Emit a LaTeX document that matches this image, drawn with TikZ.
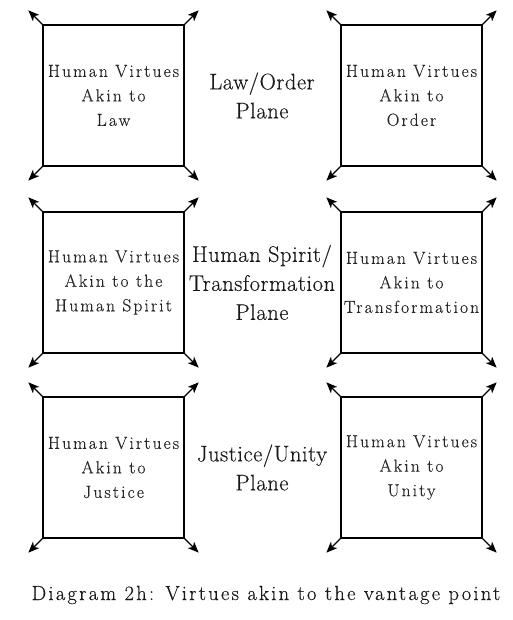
\documentclass[tikz,border=0pt]{standalone}
\usepackage{fontspec}
\setmainfont{Latin Modern Roman}
\newfontfamily\spacedfont{Latin Modern Roman}[LetterSpace=12, FakeBold=0.3]
\newfontfamily\planefont{Latin Modern Roman}[LetterSpace=2.5, FakeBold=0.3]
\newfontfamily\captfont{Latin Modern Roman}[LetterSpace=11, FakeBold=0.3]
\usetikzlibrary{arrows.meta}

\tikzset{
    virtue/.style={draw, line width=1.3pt, minimum width=141pt, minimum height=141pt,
        inner sep=0pt, align=center, font=\spacedfont\fontsize{17.5}{24.5}\selectfont, text=black!85},
    plane/.style={align=center, font=\planefont\fontsize{22.5}{29}\selectfont, text=black!90},
    corner/.style={line width=1.3pt, -{Stealth[length=11pt, width=9pt, inset=3pt]}}
}

\begin{document}
\begin{tikzpicture}[x=1pt, y=1pt]

    \useasboundingbox (0, 0) rectangle (513, 620);

    \foreach \name/\x/\y/\txt in {lawbox/113.5/524.5/{Human Virtues\\Akin to\\Law},
                                  orderbox/411.5/524.5/{Human Virtues\\Akin to\\Order},
                                  spiritbox/113.5/337.5/{Human Virtues\\Akin to the\\Human Spirit},
                                  transbox/411.5/337.5/{Human Virtues\\Akin to\\Transformation},
                                  justicebox/113.5/152.5/{Human Virtues\\Akin to\\Justice},
                                  unitybox/411.5/152.5/{Human Virtues\\Akin to\\Unity}}
        \node[virtue] (\name) at (\x, \y) {\txt};

    \foreach \name in {lawbox, orderbox, spiritbox, transbox, justicebox, unitybox}
        \foreach \c/\dx/\dy in {north west/-14/14, north east/14/14, south west/-14/-14, south east/14/-14}
            \draw[corner] (\name.\c) -- ++(\dx, \dy);

    \node[plane] (laworder) at (262, 524.5) {Law/Order\\Plane};
    \node[plane] (spirittrans) at (262, 337.5) {Human Spirit/\\Transformation\\Plane};
    \node[plane] (justiceunity) at (262, 152.5) {Justice/Unity\\Plane};

    \node[font=\captfont\fontsize{20.5}{24}\selectfont, text=black!90] (caption) at (266, 25) {Diagram 2h: Virtues akin to the vantage point};

\end{tikzpicture}
\end{document}
